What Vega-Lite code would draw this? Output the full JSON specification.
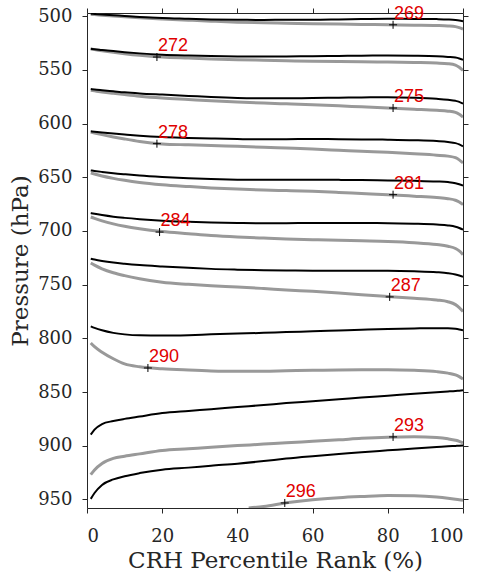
{
  "$schema": "https://vega.github.io/schema/vega-lite/v6.json",
  "autosize": "none",
  "width": 376,
  "height": 495,
  "padding": {"left": 87, "top": 13, "right": 18, "bottom": 73},
  "background": "white",
  "config": {
    "font": "DejaVu Serif",
    "view": {"stroke": null},
    "axis": {
      "grid": false,
      "domainColor": "#262626",
      "tickColor": "#262626",
      "tickSize": 5,
      "tickWidth": 1,
      "domainWidth": 1,
      "labelFont": "DejaVu Serif",
      "labelFontSize": 18,
      "labelColor": "#262626",
      "titleFont": "DejaVu Serif",
      "titleFontWeight": "normal",
      "titleFontSize": 23,
      "titleColor": "#262626"
    }
  },
  "datasets": {
    "lines": [
      {"x":1,"b1":497.7,"g1":498.2,"b2":530.3,"g2":530.6,"b3":567.8,"g3":569.0,"b4":607.2,"g4":608.0,"b5":643.6,"g5":646.0,"b6":683.3,"g6":687.0,"b7":725.8,"g7":729.8,"b8":788.8,"g8":804.3,"b9":889.7,"g9":926.9,"b10":949.5,"g10":null},
      {"x":2,"b1":497.9,"g1":498.5,"b2":530.7,"g2":531.1,"b3":568.2,"g3":569.5,"b4":607.6,"g4":608.8,"b5":644.1,"g5":647.0,"b6":684.0,"g6":688.3,"b7":726.6,"g7":731.8,"b8":790.2,"g8":807.8,"b9":885.0,"g9":922.5,"b10":944.0,"g10":null},
      {"x":4,"b1":498.3,"g1":499.0,"b2":531.4,"g2":532.1,"b3":568.9,"g3":570.5,"b4":608.3,"g4":610.3,"b5":645.0,"g5":648.8,"b6":685.2,"g6":690.6,"b7":727.9,"g7":735.2,"b8":792.5,"g8":813.0,"b9":879.8,"g9":916.5,"b10":936.5,"g10":null},
      {"x":7,"b1":499.0,"g1":499.8,"b2":532.5,"g2":533.6,"b3":569.9,"g3":571.8,"b4":609.3,"g4":612.4,"b5":646.2,"g5":651.0,"b6":686.7,"g6":693.4,"b7":729.4,"g7":738.9,"b8":794.9,"g8":819.0,"b9":877.0,"g9":911.8,"b10":931.4,"g10":null},
      {"x":10,"b1":499.8,"g1":500.6,"b2":533.5,"g2":534.9,"b3":570.9,"g3":573.0,"b4":610.2,"g4":614.3,"b5":647.2,"g5":652.8,"b6":687.8,"g6":695.6,"b7":730.5,"g7":741.6,"b8":796.3,"g8":823.8,"b9":875.0,"g9":909.8,"b10":928.4,"g10":null},
      {"x":14,"b1":500.7,"g1":501.5,"b2":534.6,"g2":536.4,"b3":571.9,"g3":574.5,"b4":611.3,"g4":616.6,"b5":648.4,"g5":654.8,"b6":689.0,"g6":697.9,"b7":731.7,"g7":744.5,"b8":797.2,"g8":826.5,"b9":872.8,"g9":907.6,"b10":925.5,"g10":null},
      {"x":20,"b1":501.7,"g1":502.6,"b2":535.8,"g2":538.0,"b3":573.0,"g3":576.2,"b4":612.5,"g4":618.9,"b5":649.7,"g5":656.9,"b6":690.4,"g6":700.5,"b7":733.0,"g7":747.8,"b8":797.4,"g8":828.3,"b9":869.6,"g9":904.4,"b10":922.3,"g10":null},
      {"x":27,"b1":502.4,"g1":503.7,"b2":536.6,"g2":539.0,"b3":574.2,"g3":577.6,"b4":613.3,"g4":619.8,"b5":650.8,"g5":658.6,"b6":691.4,"g6":702.5,"b7":734.3,"g7":749.7,"b8":797.0,"g8":829.5,"b9":867.6,"g9":902.8,"b10":920.4,"g10":null},
      {"x":33,"b1":503.0,"g1":504.6,"b2":537.1,"g2":539.8,"b3":575.3,"g3":578.8,"b4":613.9,"g4":620.5,"b5":651.6,"g5":659.9,"b6":692.1,"g6":704.2,"b7":735.3,"g7":751.0,"b8":796.3,"g8":830.3,"b9":866.0,"g9":901.4,"b10":918.6,"g10":null},
      {"x":40,"b1":503.3,"g1":505.5,"b2":537.4,"g2":540.5,"b3":576.2,"g3":580.0,"b4":614.4,"g4":621.2,"b5":652.2,"g5":661.0,"b6":692.6,"g6":705.6,"b7":736.0,"g7":752.2,"b8":795.6,"g8":830.7,"b9":864.0,"g9":899.9,"b10":916.7,"g10":null},
      {"x":43,"g10":957.9},
      {"x":47,"b1":503.5,"g1":506.1,"b2":537.5,"g2":541.0,"b3":576.5,"g3":580.9,"b4":614.6,"g4":622.0,"b5":652.4,"g5":661.8,"b6":692.8,"g6":706.6,"b7":736.5,"g7":753.6,"b8":794.9,"g8":830.6,"b9":862.1,"g9":898.5,"b10":914.3,"g10":956.6},
      {"x":53,"b1":503.3,"g1":506.5,"b2":537.4,"g2":541.5,"b3":576.4,"g3":581.6,"b4":614.5,"g4":622.8,"b5":652.3,"g5":662.4,"b6":692.7,"g6":707.4,"b7":736.8,"g7":754.9,"b8":794.2,"g8":830.2,"b9":860.3,"g9":897.2,"b10":912.0,"g10":953.2},
      {"x":60,"b1":503.3,"g1":507.0,"b2":537.3,"g2":542.0,"b3":576.2,"g3":582.4,"b4":614.4,"g4":623.7,"b5":652.2,"g5":663.1,"b6":692.6,"g6":708.1,"b7":737.0,"g7":756.2,"b8":793.5,"g8":829.8,"b9":858.6,"g9":895.9,"b10":909.8,"g10":950.3},
      {"x":67,"b1":503.0,"g1":507.3,"b2":537.0,"g2":542.2,"b3":575.9,"g3":583.4,"b4":614.5,"g4":624.8,"b5":652.4,"g5":664.1,"b6":692.6,"g6":708.7,"b7":737.0,"g7":757.7,"b8":792.7,"g8":829.5,"b9":856.8,"g9":894.5,"b10":907.8,"g10":948.4},
      {"x":73,"b1":502.7,"g1":507.6,"b2":536.7,"g2":542.4,"b3":575.6,"g3":584.4,"b4":614.7,"g4":625.8,"b5":652.6,"g5":665.1,"b6":692.6,"g6":709.2,"b7":737.0,"g7":759.3,"b8":792.0,"g8":829.3,"b9":855.1,"g9":893.1,"b10":906.0,"g10":947.3},
      {"x":80,"b1":502.4,"g1":508.0,"b2":536.6,"g2":542.7,"b3":575.4,"g3":585.5,"b4":615.0,"g4":626.8,"b5":652.9,"g5":666.2,"b6":692.7,"g6":709.8,"b7":737.1,"g7":761.0,"b8":791.3,"g8":829.2,"b9":853.4,"g9":892.0,"b10":904.3,"g10":946.3},
      {"x":87,"b1":502.5,"g1":508.3,"b2":536.8,"g2":543.1,"b3":575.9,"g3":586.6,"b4":615.5,"g4":628.1,"b5":653.3,"g5":667.6,"b6":693.2,"g6":710.9,"b7":737.6,"g7":762.7,"b8":790.8,"g8":829.8,"b9":851.6,"g9":891.6,"b10":902.6,"g10":946.6},
      {"x":93,"b1":502.7,"g1":508.6,"b2":537.3,"g2":543.6,"b3":576.9,"g3":587.6,"b4":616.3,"g4":629.4,"b5":653.9,"g5":668.9,"b6":694.0,"g6":712.6,"b7":738.4,"g7":764.3,"b8":790.5,"g8":831.0,"b9":850.2,"g9":892.4,"b10":901.3,"g10":947.8},
      {"x":96,"b1":503.0,"g1":509.0,"b2":537.9,"g2":544.2,"b3":577.8,"g3":588.4,"b4":617.1,"g4":630.3,"b5":654.5,"g5":669.9,"b6":694.8,"g6":714.2,"b7":739.3,"g7":765.9,"b8":790.6,"g8":832.4,"b9":849.5,"g9":893.6,"b10":900.6,"g10":948.9},
      {"x":98,"b1":503.5,"g1":509.7,"b2":538.5,"g2":545.5,"b3":578.8,"g3":589.6,"b4":618.2,"g4":631.8,"b5":655.5,"g5":671.4,"b6":696.0,"g6":716.3,"b7":740.5,"g7":768.6,"b8":791.1,"g8":834.0,"b9":849.0,"g9":894.9,"b10":900.2,"g10":949.8},
      {"x":99,"b1":504.0,"g1":510.6,"b2":539.3,"g2":547.5,"b3":579.8,"g3":591.3,"b4":619.4,"g4":633.8,"b5":656.5,"g5":673.0,"b6":697.2,"g6":718.6,"b7":741.5,"g7":771.3,"b8":791.7,"g8":835.6,"b9":848.7,"g9":895.9,"b10":900.0,"g10":950.3},
      {"x":100,"b1":504.8,"g1":512.0,"b2":540.5,"g2":550.5,"b3":581.5,"g3":593.9,"b4":621.2,"g4":636.7,"b5":657.8,"g5":675.5,"b6":698.8,"g6":722.0,"b7":742.8,"g7":774.9,"b8":792.5,"g8":837.8,"b9":848.4,"g9":897.4,"b10":899.9,"g10":950.8}
    ],
    "labels": [
      {"x":81.4,"p":508.0,"t":"269"},
      {"x":18.6,"p":538.0,"t":"272"},
      {"x":81.4,"p":585.5,"t":"275"},
      {"x":18.6,"p":618.7,"t":"278"},
      {"x":81.4,"p":666.2,"t":"281"},
      {"x":19.3,"p":701.0,"t":"284"},
      {"x":80.5,"p":761.4,"t":"287"},
      {"x":16.2,"p":827.6,"t":"290"},
      {"x":81.4,"p":891.8,"t":"293"},
      {"x":52.6,"p":953.3,"t":"296"}
    ]
  },
  "resolve": {"axis": {"x": "independent", "y": "independent"}},
  "layer": [
    {
      "data": {"name": "lines"},
      "transform": [{"fold": ["g1","g2","g3","g4","g5","g6","g7","g8","g9","g10"], "as": ["series", "p"]}],
      "mark": {"type": "line", "color": "#999999", "strokeWidth": 3, "clip": true, "invalid": "filter", "interpolate": "monotone"},
      "encoding": {
        "x": {"field": "x", "type": "quantitative", "scale": {"domain": [0, 100], "nice": false, "zero": false},
              "axis": {"orient": "bottom", "values": [0,20,40,60,80,100], "title": "CRH Percentile Rank (%)", "labelPadding": 14, "titlePadding": 4, "labelFont": "DejaVu Serif", "titleFont": "DejaVu Serif"}},
        "y": {"field": "p", "type": "quantitative", "scale": {"domain": [497, 958], "reverse": true, "nice": false, "zero": false},
              "axis": {"orient": "left", "values": [500,550,600,650,700,750,800,850,900,950], "title": "Pressure (hPa)", "labelPadding": 10, "titlePadding": 5, "labelFont": "DejaVu Serif", "titleFont": "DejaVu Serif"}},
        "detail": {"field": "series"}
      }
    },
    {
      "data": {"name": "lines"},
      "transform": [{"fold": ["b1","b2","b3","b4","b5","b6","b7","b8","b9","b10"], "as": ["series", "p"]}],
      "mark": {"type": "line", "color": "#000000", "strokeWidth": 2, "clip": true, "invalid": "filter", "interpolate": "monotone"},
      "encoding": {
        "x": {"field": "x", "type": "quantitative",
              "axis": {"orient": "top", "values": [0,20,40,60,80,100], "labels": false, "title": null}},
        "y": {"field": "p", "type": "quantitative",
              "axis": {"orient": "right", "values": [500,550,600,650,700,750,800,850,900,950], "labels": false, "title": null}},
        "detail": {"field": "series"}
      }
    },
    {
      "data": {"name": "labels"},
      "mark": {"type": "point", "shape": "M-1,0L1,0M0,-1L0,1", "filled": false, "stroke": "#000000", "strokeWidth": 1, "size": 64, "opacity": 1},
      "encoding": {
        "x": {"field": "x", "type": "quantitative", "axis": null},
        "y": {"field": "p", "type": "quantitative", "axis": null}
      }
    },
    {
      "data": {"name": "labels"},
      "mark": {"type": "text", "align": "left", "baseline": "alphabetic", "dx": 1, "dy": -6, "font": "Liberation Sans", "fontSize": 18, "color": "#e00000"},
      "encoding": {
        "x": {"field": "x", "type": "quantitative", "axis": null},
        "y": {"field": "p", "type": "quantitative", "axis": null},
        "text": {"field": "t"}
      }
    }
  ]
}
